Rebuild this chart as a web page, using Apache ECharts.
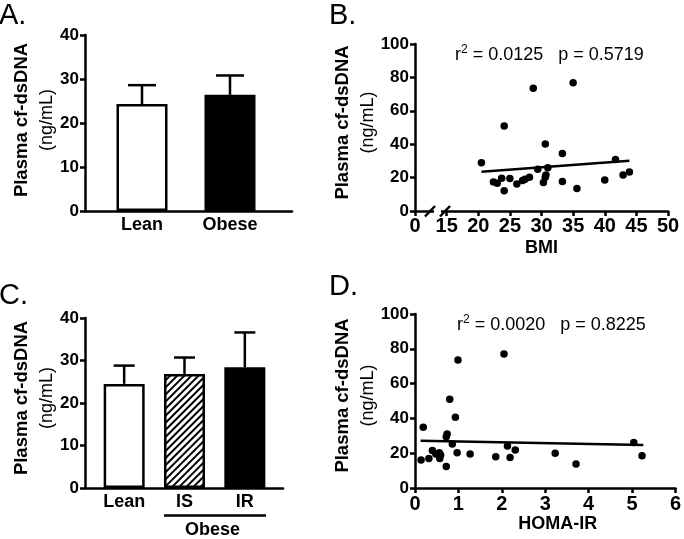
<!DOCTYPE html>
<html><head><meta charset="utf-8">
<script src="https://cdn.jsdelivr.net/npm/echarts@6/dist/echarts.min.js"></script>
<style>html,body{margin:0;padding:0;background:#fff}#c{width:684px;height:539px}</style>
</head><body><div id="c"></div>
<script>
// ---------- data ----------
const catsA = ['Lean', 'Obese'];
const meanA = [24.3, 26.4];
const upperA = [28.6, 30.8];

const catsC = ['Lean', 'IS', 'IR'];
const meanC = [24.5, 26.8, 28.4];
const upperC = [28.8, 30.7, 36.6];
const groupLabelC = 'Obese';

const bmiX = [20.5, 24.1, 22.4, 23.0, 23.7, 24.1, 25.0, 26.1, 27.0, 27.4, 28.1, 29.4, 30.3, 30.6, 30.7, 31.0, 30.6, 33.3, 33.3, 35.6, 40.0, 41.7, 42.9, 43.9, 28.7, 35.0];
const bmiY = [28.9, 50.9, 17.4, 16.6, 19.6, 12.2, 19.4, 16.2, 18.2, 19.0, 20.2, 25.0, 17.0, 20.2, 21.6, 25.9, 40.1, 34.5, 17.6, 13.4, 18.6, 30.9, 21.6, 23.4, 73.5, 76.8];
const bmiFitX = [20.5, 43.9];
const bmiFitY = [23.5, 30.1];
const bmiTicks = [10, 15, 20, 25, 30, 35, 40, 45, 50]; // 10 shown as "0" (broken axis)
const bmiTickText = ['0', '15', '20', '25', '30', '35', '40', '45', '50'];
const bmiStat = { r2: '0.0125', p: '0.5719' };

const homaX = [0.14, 0.19, 0.32, 0.40, 0.48, 0.56, 0.57, 0.59, 0.72, 0.72, 0.74, 0.86, 0.93, 0.97, 1.27, 1.86, 2.13, 2.19, 2.31, 3.23, 3.71, 5.04, 5.23, 0.99, 2.05, 0.80];
const homaY = [16.1, 34.9, 16.9, 21.5, 19.5, 20.3, 16.9, 19.0, 12.3, 29.5, 31.0, 25.3, 40.6, 20.3, 19.5, 18.0, 24.1, 17.6, 21.8, 19.9, 13.8, 26.1, 18.6, 73.6, 77.0, 51.0];
const homaFitX = [0.13, 5.26];
const homaFitY = [27.2, 24.7];
const homaStat = { r2: '0.0020', p: '0.8225' };

const yTitle = 'Plasma cf-dsDNA';
const yUnit = '(ng/mL)';

// ---------- styles ----------
const FONT = 'Liberation Sans, Arial, Helvetica, sans-serif';
const black = '#000';
const fillA = ['#fff', '#000'];
const fillC = ['#fff', 'hatch', '#000'];

const zip = (xs, ys) => xs.map((x, i) => [x, ys[i]]);

const axisLine = { show: true, onZero: false, lineStyle: { color: black, width: 2.5 } };
const yTickStyle = { show: true, inside: false, length: 5, lineStyle: { color: black, width: 2.5 } };
const yLabel = { color: black, fontFamily: FONT, fontWeight: 'bold', fontSize: 17, margin: 6 };

function yName(padShift) {
  return {
    name: '{b|' + yTitle + '}\n{n|' + yUnit + '}',
    nameLocation: 'middle',
    nameRotate: 90,
    nameGap: 24,
    nameTextStyle: {
      padding: [0, 0, 0, padShift],
      rich: {
        b: { fontFamily: FONT, fontWeight: 'bold', fontSize: 18.5, color: black, lineHeight: 25 },
        n: { fontFamily: FONT, fontWeight: 'normal', fontSize: 18, color: black, lineHeight: 25 }
      }
    }
  };
}

const hatchDecal = {
  symbol: 'rect', symbolSize: 1, color: '#000', backgroundColor: '#fff',
  dashArrayX: [1, 0], dashArrayY: [1.8, 3], rotation: -Math.PI / 4
};

function barData(means, fills) {
  return means.map((v, i) => {
    const f = fills[i];
    const it = { value: v, itemStyle: { color: f === 'hatch' ? '#fff' : f, borderColor: black, borderWidth: 2.5 } };
    if (f === 'hatch') it.itemStyle.decal = hatchDecal;
    return it;
  });
}

function errRender(capW) {
  return function (params, api) {
    const i = api.value(0);
    const m = api.coord([i, api.value(1)]);
    const t = api.coord([i, api.value(2)]);
    return {
      type: 'group',
      children: [
        { type: 'line', shape: { x1: m[0], y1: m[1], x2: t[0], y2: t[1] }, style: { stroke: black, lineWidth: 2.5 } },
        { type: 'line', shape: { x1: t[0] - capW / 2, y1: t[1], x2: t[0] + capW / 2, y2: t[1] }, style: { stroke: black, lineWidth: 2.5 } }
      ]
    };
  };
}

function statText(s) {
  return '{a|r}{s|2}{a| = ' + s.r2 + '   p = ' + s.p + '}';
}
const statRich = {
  a: { fontFamily: FONT, fontSize: 18, color: black, lineHeight: 22 },
  s: { fontFamily: FONT, fontSize: 12, color: black, lineHeight: 22, verticalAlign: 'top' }
};

const hidden = { show: false };

const option = {
  backgroundColor: '#fff',
  animation: false,
  grid: [
    { left: 85, top: 35, width: 207, height: 176 },   // 0 A axes
    { left: 98, top: 35, width: 176, height: 176 },   // 1 A bars
    { left: 415, top: 44, width: 253, height: 167 },  // 2 B
    { left: 85, top: 318, width: 198, height: 170 },  // 3 C axes
    { left: 94, top: 318, width: 181, height: 170 },  // 4 C bars
    { left: 415, top: 314, width: 263, height: 174 }  // 5 D
  ],
  xAxis: [
    { gridIndex: 0, type: 'value', min: 0, max: 1, axisLine, axisTick: hidden, axisLabel: hidden, splitLine: hidden },
    { gridIndex: 1, type: 'category', data: catsA, axisLine: hidden, axisTick: hidden,
      axisLabel: { color: black, fontFamily: FONT, fontWeight: 'bold', fontSize: 18, margin: 5 } },
    { gridIndex: 2, type: 'value', min: bmiTicks[0], max: bmiTicks[bmiTicks.length - 1], interval: 5,
      axisLine, axisTick: { show: true, length: 5, lineStyle: { color: black, width: 2.5 } }, splitLine: hidden,
      axisLabel: { color: black, fontFamily: FONT, fontWeight: 'bold', fontSize: 20, margin: 5,
        formatter: v => { const k = bmiTicks.indexOf(v); return k >= 0 ? bmiTickText[k] : ''; } },
      name: 'BMI', nameLocation: 'middle', nameGap: 28,
      nameTextStyle: { color: black, fontFamily: FONT, fontWeight: 'bold', fontSize: 18 } },
    { gridIndex: 3, type: 'value', min: 0, max: 1, axisLine, axisTick: hidden, axisLabel: hidden, splitLine: hidden },
    { gridIndex: 4, type: 'category', data: catsC, axisLine: hidden, axisTick: hidden,
      axisLabel: { color: black, fontFamily: FONT, fontWeight: 'bold', fontSize: 18, margin: 5 } },
    { gridIndex: 5, type: 'value', min: 0, max: 6, interval: 1,
      axisLine, axisTick: { show: true, length: 5, lineStyle: { color: black, width: 2.5 } }, splitLine: hidden,
      axisLabel: { color: black, fontFamily: FONT, fontWeight: 'bold', fontSize: 20, margin: 6 },
      name: 'HOMA-IR', nameLocation: 'middle', nameGap: 26,
      nameTextStyle: { color: black, fontFamily: FONT, fontWeight: 'bold', fontSize: 18, padding: [0, 0, 0, 25] } }
  ],
  yAxis: [
    Object.assign({ gridIndex: 0, type: 'value', min: 0, max: 40, interval: 10, axisLine, axisTick: yTickStyle, axisLabel: yLabel, splitLine: hidden }, yName(6)),
    { gridIndex: 1, type: 'value', min: 0, max: 40, show: false },
    Object.assign({ gridIndex: 2, type: 'value', min: 0, max: 100, interval: 20, axisLine, axisTick: yTickStyle, axisLabel: yLabel, splitLine: hidden }, yName(10)),
    Object.assign({ gridIndex: 3, type: 'value', min: 0, max: 40, interval: 10, axisLine, axisTick: yTickStyle, axisLabel: yLabel, splitLine: hidden }, yName(10)),
    { gridIndex: 4, type: 'value', min: 0, max: 40, show: false },
    Object.assign({ gridIndex: 5, type: 'value', min: 0, max: 100, interval: 20, axisLine, axisTick: yTickStyle, axisLabel: yLabel, splitLine: hidden }, yName(11))
  ],
  series: [
    { type: 'bar', xAxisIndex: 1, yAxisIndex: 1, barWidth: 51, data: barData(meanA, fillA), z: 3 },
    { type: 'custom', xAxisIndex: 1, yAxisIndex: 1, renderItem: errRender(28), z: 4,
      data: meanA.map((m, i) => [i, m, upperA[i]]) },
    { type: 'scatter', xAxisIndex: 2, yAxisIndex: 2, symbolSize: 7.5, itemStyle: { color: black, opacity: 1 }, data: zip(bmiX, bmiY), z: 4 },
    { type: 'line', xAxisIndex: 2, yAxisIndex: 2, symbol: 'none', lineStyle: { color: black, width: 2.5 }, data: zip(bmiFitX, bmiFitY), z: 3 },
    { type: 'bar', xAxisIndex: 4, yAxisIndex: 4, barWidth: 41, data: barData(meanC, fillC), z: 3 },
    { type: 'custom', xAxisIndex: 4, yAxisIndex: 4, renderItem: errRender(21), z: 4,
      data: meanC.map((m, i) => [i, m, upperC[i]]) },
    { type: 'scatter', xAxisIndex: 5, yAxisIndex: 5, symbolSize: 7.5, itemStyle: { color: black, opacity: 1 }, data: zip(homaX, homaY), z: 4 },
    { type: 'line', xAxisIndex: 5, yAxisIndex: 5, symbol: 'none', lineStyle: { color: black, width: 2.5 }, data: zip(homaFitX, homaFitY), z: 3 }
  ],
  graphic: [
    { type: 'text', left: -1, top: 1, style: { text: 'A.', font: '29px ' + FONT, fill: black } },
    { type: 'text', left: 329, top: 1, style: { text: 'B.', font: '29px ' + FONT, fill: black } },
    { type: 'text', left: -1, top: 281, style: { text: 'C.', font: '29px ' + FONT, fill: black } },
    { type: 'text', left: 329, top: 272, style: { text: 'D.', font: '29px ' + FONT, fill: black } },
    { type: 'text', left: 455, top: 44, style: { text: statText(bmiStat), rich: statRich } },
    { type: 'text', left: 457, top: 314, style: { text: statText(homaStat), rich: statRich } },
    // axis break marks on BMI axis
    { type: 'rect', shape: { x: 434, y: 207, width: 7, height: 8 }, style: { fill: '#fff' }, z: 50 },
    { type: 'line', shape: { x1: 425, y1: 216.5, x2: 435, y2: 206 }, style: { stroke: black, lineWidth: 2.5 }, z: 51 },
    { type: 'line', shape: { x1: 440, y1: 216.5, x2: 450, y2: 206 }, style: { stroke: black, lineWidth: 2.5 }, z: 51 },
    // group bracket under IS / IR
    { type: 'line', shape: { x1: 164, y1: 515.5, x2: 266, y2: 515.5 }, style: { stroke: black, lineWidth: 2.5 } },
    { type: 'text', x: 212.5, y: 530, style: { text: groupLabelC, font: 'bold 18px ' + FONT, fill: black, textAlign: 'center', textVerticalAlign: 'middle' } }
  ]
};

const chart = echarts.init(document.getElementById('c'), null, { renderer: 'canvas' });
chart.setOption(option);
</script></body></html>
